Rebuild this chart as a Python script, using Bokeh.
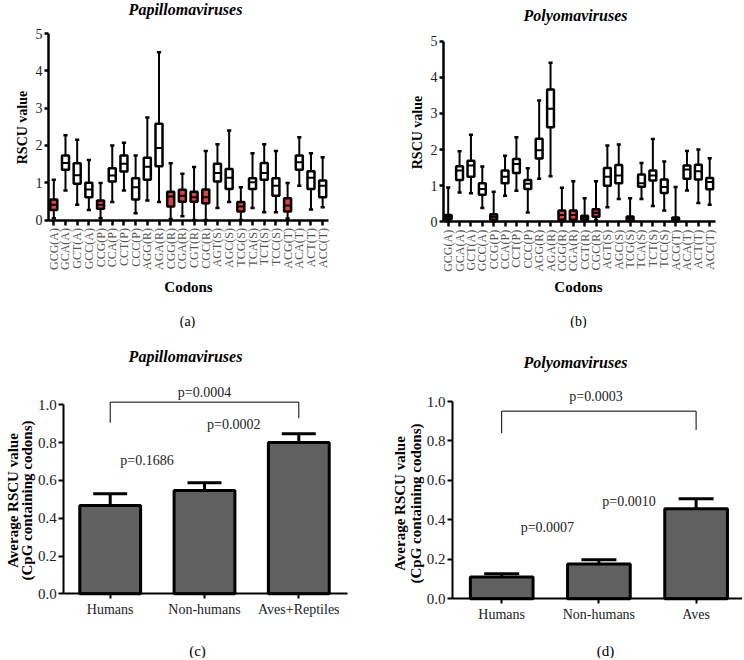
import math
from bokeh.plotting import figure
from bokeh.layouts import column, row
from bokeh.models import Range1d, FixedTicker, Label, NumeralTickFormatter
from bokeh.embed import file_html
from bokeh.resources import INLINE

SERIF = "Liberation Serif"
RED = "#e2403f"
BAR_GREY = "#606060"

# ---------------- data ----------------
codons = ["GCG(A)", "GCA(A)", "GCT(A)", "GCC(A)", "CCG(P)", "CCA(P)", "CCT(P)", "CCC(P)",
          "AGG(R)", "AGA(R)", "CGG(R)", "CGA(R)", "CGT(R)", "CGC(R)", "AGT(S)", "AGC(S)",
          "TCG(S)", "TCA(S)", "TCT(S)", "TCC(S)", "ACG(T)", "ACA(T)", "ACT(T)", "ACC(T)"]
cpg_codons = ["GCG(A)", "CCG(P)", "CGG(R)", "CGA(R)", "CGT(R)", "CGC(R)", "TCG(S)", "ACG(T)"]
box_y_ticks = [0, 1, 2, 3, 4, 5]

papilloma_max = [1.08, 2.27, 2.15, 1.61, 0.99, 2.00, 2.07, 1.73, 2.75, 4.50, 1.52, 1.24,
                 1.42, 1.85, 2.03, 2.40, 0.88, 1.79, 2.03, 1.85, 0.99, 2.22, 1.79, 1.68]
papilloma_q3 = [0.55, 1.73, 1.52, 1.00, 0.52, 1.39, 1.73, 1.12, 1.67, 2.58, 0.76, 0.81,
                0.76, 0.82, 1.51, 1.37, 0.48, 1.12, 1.53, 1.12, 0.58, 1.73, 1.31, 1.06]
papilloma_med = [0.41, 1.53, 1.20, 0.82, 0.41, 1.19, 1.51, 0.88, 1.43, 1.93, 0.63, 0.65,
                 0.61, 0.61, 1.26, 1.13, 0.36, 1.01, 1.26, 0.92, 0.39, 1.55, 1.13, 0.92]
papilloma_q1 = [0.27, 1.35, 0.97, 0.61, 0.30, 1.03, 1.30, 0.55, 1.08, 1.44, 0.36, 0.49,
                0.49, 0.45, 1.03, 0.83, 0.23, 0.83, 1.08, 0.65, 0.23, 1.35, 0.83, 0.61]
papilloma_min = [0.05, 0.79, 0.41, 0.27, 0.05, 0.48, 0.79, 0.18, 0.52, 0.48, 0.03, 0.10,
                 0.00, 0.00, 0.32, 0.48, 0.00, 0.32, 0.21, 0.21, 0.04, 0.92, 0.28, 0.34]

polyoma_max = [0.95, 1.95, 2.41, 1.53, 0.83, 1.83, 2.34, 1.48, 3.36, 4.40, 0.94, 1.12,
               0.65, 1.12, 2.11, 2.14, 0.65, 1.63, 2.29, 1.67, 0.96, 1.96, 2.00, 1.76]
polyoma_q3 = [0.19, 1.54, 1.69, 1.07, 0.21, 1.42, 1.74, 1.16, 2.30, 3.66, 0.31, 0.31,
              0.17, 0.35, 1.49, 1.57, 0.15, 1.31, 1.42, 1.17, 0.12, 1.56, 1.58, 1.21]
polyoma_med = [0.14, 1.42, 1.56, 0.91, 0.14, 1.25, 1.60, 1.05, 1.98, 3.13, 0.19, 0.19,
               0.12, 0.25, 1.25, 1.28, 0.09, 1.07, 1.28, 0.96, 0.08, 1.45, 1.40, 1.10]
polyoma_q1 = [0.07, 1.16, 1.25, 0.75, 0.06, 1.07, 1.35, 0.91, 1.75, 2.62, 0.06, 0.06,
              0.06, 0.14, 1.00, 1.07, 0.03, 0.97, 1.14, 0.80, 0.03, 1.19, 1.17, 0.90]
polyoma_min = [0.00, 0.81, 0.79, 0.38, 0.00, 0.72, 0.86, 0.26, 1.19, 1.26, 0.00, 0.00,
               0.00, 0.05, 0.40, 0.63, 0.00, 0.63, 0.44, 0.31, 0.00, 0.87, 0.52, 0.47]

papilloma_groups = ["Humans", "Non-humans", "Aves+Reptiles"]
papilloma_mean = [0.467, 0.547, 0.800]
papilloma_sem = [0.063, 0.040, 0.047]
papilloma_pvals = ["p=0.1686", "p=0.0002", "p=0.0004"]
papilloma_pval_pos = [(0.39, 0.705), (1.31, 0.894), (1.00, 1.063)]
papilloma_bracket = (1.014, 0.905, 0.929)   # bar, left drop, right drop

polyoma_groups = ["Humans", "Non-humans", "Aves"]
polyoma_mean = [0.110, 0.177, 0.456]
polyoma_sem = [0.017, 0.021, 0.051]
polyoma_pvals = ["p=0.0007", "p=0.0010", "p=0.0003"]
polyoma_pval_pos = [(0.47, 0.363), (1.31, 0.495), (0.97, 1.025)]
polyoma_bracket = (0.951, 0.84, 0.856)

bar_y_ticks = [0.0, 0.2, 0.4, 0.6, 0.8, 1.0]


# ---------------- helpers ----------------
class Panel:
    """A figure whose frame fills the whole figure; page pixel <-> data mapping."""

    def __init__(self, origin, size, ax, bx, ay, by):
        ox, oy = origin
        w, h = size
        self.ax, self.bx, self.ay, self.by = ax, bx, ay, by
        xr = ((ox - ax) / bx, (ox + w - ax) / bx)
        yr = ((ay - (oy + h)) / by, (ay - oy) / by)
        p = figure(width=w, height=h, x_range=Range1d(*xr), y_range=Range1d(*yr),
                   min_border=0, min_border_left=0, min_border_right=0,
                   min_border_top=0, min_border_bottom=0,
                   output_backend="svg", toolbar_location=None, tools="")
        p.outline_line_color = None
        p.grid.visible = False
        p.background_fill_color = "white"
        p.border_fill_color = "white"
        self.p = p

    def dx(self, px):
        return (px - self.ax) / self.bx

    def dy(self, py):
        return (self.ay - py) / self.by

    def text(self, px, py, txt, size, style="normal", angle=0.0, color="black"):
        self.p.add_layout(Label(x=self.dx(px), y=self.dy(py), text=txt, text_font=SERIF,
                                text_font_size=size, text_font_style=style,
                                text_align="center", text_baseline="middle",
                                angle=angle, text_color=color))


def style_axis(ax, size, tick_out, standoff, width):
    ax.axis_line_width = width
    ax.axis_line_color = "black"
    ax.major_tick_line_width = width
    ax.major_tick_line_color = "black"
    ax.major_tick_out = tick_out
    ax.major_tick_in = 0
    ax.minor_tick_line_color = None
    ax.major_label_text_font = SERIF
    ax.major_label_text_font_size = size
    ax.major_label_text_color = "#222222"
    ax.major_label_standoff = standoff


def box_panel(panel, lo, q1, med, q3, hi, yaxis_px, xaxis_end_px):
    p = panel.p
    xs = list(range(len(codons)))
    colors = [RED if c in cpg_codons else "white" for c in codons]
    p.segment(x0=xs, y0=lo, x1=xs, y1=hi, line_color="black", line_width=2)
    cap = 0.18
    p.segment(x0=[x - cap for x in xs], y0=hi, x1=[x + cap for x in xs], y1=hi,
              line_color="black", line_width=2.5)
    p.segment(x0=[x - cap for x in xs], y0=lo, x1=[x + cap for x in xs], y1=lo,
              line_color="black", line_width=2.5)
    p.vbar(x=xs, width=0.6, bottom=q1, top=q3, fill_color=colors,
           line_color="black", line_width=2.5)
    half = 0.3
    p.segment(x0=[x - half for x in xs], y0=med, x1=[x + half for x in xs], y1=med,
              line_color="black", line_width=2)

    y0 = panel.dx(yaxis_px)
    p.yaxis.fixed_location = y0
    p.yaxis.bounds = (box_y_ticks[0], box_y_ticks[-1])
    p.yaxis.ticker = FixedTicker(ticks=box_y_ticks)
    style_axis(p.yaxis, "14px", 4, 2, 2.5)

    p.xaxis.fixed_location = 0
    p.xaxis.bounds = (y0, panel.dx(xaxis_end_px))
    p.xaxis.ticker = FixedTicker(ticks=xs)
    p.xaxis.major_label_overrides = {i: c for i, c in enumerate(codons)}
    style_axis(p.xaxis, "12px", 5, 3, 2.5)
    p.xaxis.major_label_orientation = math.pi / 2
    p.xaxis.major_label_text_color = "#555555"


def bar_panel(panel, groups, mean, sem, bracket, pvals, pval_pos, yaxis_px, xaxis_end_px):
    p = panel.p
    xs = list(range(len(groups)))
    tops = [m + s for m, s in zip(mean, sem)]
    p.segment(x0=xs, y0=mean, x1=xs, y1=tops, line_color="black", line_width=3)
    cap = 0.18
    p.segment(x0=[x - cap for x in xs], y0=tops, x1=[x + cap for x in xs], y1=tops,
              line_color="black", line_width=3)
    p.vbar(x=xs, width=0.645, bottom=0, top=mean, fill_color=BAR_GREY,
           line_color="black", line_width=3)
    by_, bl, br = bracket
    p.line(x=[xs[0], xs[0], xs[-1], xs[-1]], y=[bl, by_, by_, br],
           line_color="black", line_width=1)
    for txt, (x, y) in zip(pvals, pval_pos):
        p.add_layout(Label(x=x, y=y, text=txt, text_font=SERIF, text_font_size="14px",
                           text_align="center", text_baseline="middle", text_color="#222222"))

    y0 = panel.dx(yaxis_px)
    p.yaxis.fixed_location = y0
    p.yaxis.bounds = (bar_y_ticks[0], bar_y_ticks[-1])
    p.yaxis.ticker = FixedTicker(ticks=bar_y_ticks)
    p.yaxis.formatter = NumeralTickFormatter(format="0.0")
    style_axis(p.yaxis, "15px", 5, 2, 2)

    p.xaxis.fixed_location = 0
    p.xaxis.bounds = (y0, panel.dx(xaxis_end_px))
    p.xaxis.ticker = FixedTicker(ticks=xs)
    p.xaxis.major_label_overrides = {i: g for i, g in enumerate(groups)}
    style_axis(p.xaxis, "14px", 5, 3, 2)


# ---------------- panel (a) ----------------
A = Panel((0, 0), (372, 328), ax=53.3, bx=11.69, ay=219.5, by=37.3)
box_panel(A, papilloma_min, papilloma_q1, papilloma_med, papilloma_q3, papilloma_max, 48, 328)
A.text(185, 9, "Papillomaviruses", "16px", "bold italic")
A.text(22, 127, "RSCU value", "14px", "bold", math.pi / 2)
A.text(188, 286, "Codons", "15px", "bold")
A.text(187, 321, "(a)", "14px")

# ---------------- panel (b) ----------------
B = Panel((372, 0), (370, 328), ax=447.7, bx=11.37, ay=221.3, by=36.12)
box_panel(B, polyoma_min, polyoma_q1, polyoma_med, polyoma_q3, polyoma_max, 443, 715)
B.text(575, 15, "Polyomaviruses", "16px", "bold italic")
B.text(417, 132, "RSCU value", "14px", "bold", math.pi / 2)
B.text(578, 286, "Codons", "15px", "bold")
B.text(578, 321, "(b)", "14px")

# ---------------- panel (c) ----------------
C = Panel((0, 328), (372, 330), ax=109.7, bx=94.3, ay=593.3, by=189.0)
bar_panel(C, papilloma_groups, papilloma_mean, papilloma_sem, papilloma_bracket,
          papilloma_pvals, papilloma_pval_pos, 63.3, 346.7)
C.text(185, 356, "Papillomaviruses", "16px", "bold italic")
C.text(12, 500, "Average RSCU value", "15px", "bold", math.pi / 2)
C.text(26, 500, "(CpG containing codons)", "15px", "bold", math.pi / 2)
C.text(197, 650, "(c)", "15px")

# ---------------- panel (d) ----------------
D = Panel((372, 328), (370, 330), ax=501.2, bx=97.2, ay=598.3, by=197.3)
bar_panel(D, polyoma_groups, polyoma_mean, polyoma_sem, polyoma_bracket,
          polyoma_pvals, polyoma_pval_pos, 452, 742)
D.text(575, 362, "Polyomaviruses", "16px", "bold italic")
D.text(399, 503, "Average RSCU value", "15px", "bold", math.pi / 2)
D.text(415, 503, "(CpG containing codons)", "15px", "bold", math.pi / 2)
D.text(605, 650, "(d)", "15px")

layout = column(row(A.p, B.p), row(C.p, D.p))
open("out.html", "w").write(file_html(layout, INLINE))
